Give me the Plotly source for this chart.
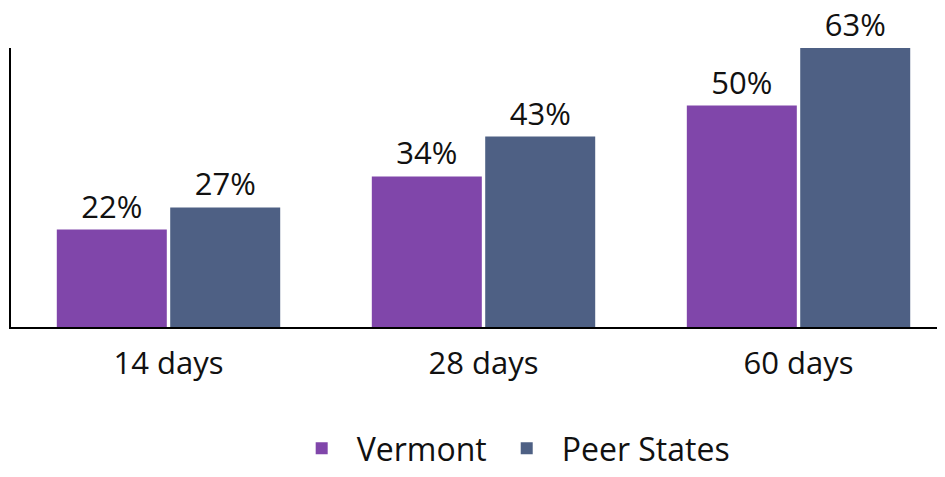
import plotly.graph_objects as go

categories = ["14 days", "28 days", "60 days"]
vermont = [22, 34, 50]
peer_states = [27, 43, 63]
series_names = ["Vermont", "Peer States"]

PURPLE = "#8046AA"
SLATE = "#4E6084"
FONT = "Open Sans, Lato, sans-serif"

fig = go.Figure()
for name, values, color in [
    (series_names[0], vermont, PURPLE),
    (series_names[1], peer_states, SLATE),
]:
    fig.add_trace(
        go.Bar(
            x=categories,
            y=values,
            name=name,
            marker={"color": color, "line": {"width": 0}},
            text=[f"{v}%" for v in values],
            textposition="outside",
            textfont={"size": 31, "color": "#111111", "family": FONT},
            cliponaxis=False,
        )
    )

# page body has an 8px margin, so the figure is sized/offset to compensate
fig.update_layout(
    width=937,
    height=469,
    barmode="group",
    bargap=0.28,
    bargroupgap=0.03,
    margin={"l": 3, "r": 0, "t": 40, "b": 150},
    plot_bgcolor="white",
    paper_bgcolor="white",
    font={"family": FONT, "color": "#111111"},
    legend={
        "orientation": "h",
        "x": 0.535,
        "xanchor": "center",
        "y": -0.435,
        "yanchor": "middle",
        "font": {"size": 32},
        "itemwidth": 60,
    },
)
fig.update_xaxes(
    range=[-0.5, 2.465],
    showline=True,
    linecolor="black",
    linewidth=2,
    ticks="",
    showgrid=False,
    tickfont={"size": 31},
    ticklabelstandoff=8,
)
fig.update_yaxes(
    range=[0, 63],
    showline=True,
    linecolor="black",
    linewidth=2,
    showticklabels=False,
    ticks="",
    showgrid=False,
    zeroline=False,
)

fig.write_html("out.html")
